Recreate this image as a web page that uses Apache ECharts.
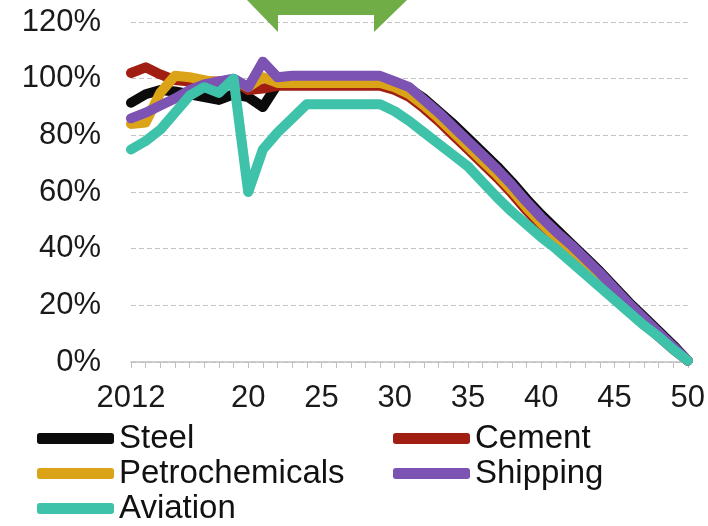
<!DOCTYPE html>
<html>
<head>
<meta charset="utf-8">
<script src="https://cdn.jsdelivr.net/npm/echarts@6/dist/echarts.min.js"></script>
<style>
html,body{margin:0;padding:0;background:#fff;}
#c{width:708px;height:526px;}
</style>
</head>
<body>
<div id="c"></div>
<script>
// ---- data ----
var years = [2012,2013,2014,2015,2016,2017,2018,2019,2020,2021,2022,2023,2024,2025,2026,2027,2028,2029,2030,2031,2032,2033,2034,2035,2036,2037,2038,2039,2040,2041,2042,2043,2044,2045,2046,2047,2048,2049,2050];
var steel = [91.5,94.5,96,95.5,94.5,93.5,92.5,94.5,93.5,90,98,98,98,98,98,98,98,98,97.5,96.5,93,88.5,84,79,74,69,63.5,57.5,52,47,42,37,32,26.5,21,16,11,6,0.5];
var cement = [102,104,101.5,99.5,99,99,99,99.5,96,96.5,97.5,97.5,97.5,97.5,97.5,97.5,97.5,97.5,96,93.5,89.5,85,80,75,70,65,59.5,53.5,48,43,38.5,33.5,28.5,23.5,18.5,14,9,4.5,0.5];
var petro = [84,84.5,95,101,100.5,99.5,98.5,99.5,97,100.5,98.5,98.5,98.5,98.5,98.5,98.5,98.5,98.5,97,94.5,90.5,86,81,76,71,66,60.5,54.5,49,44,39.5,34.5,29.5,24.5,19,14.5,9.5,5,0.5];
var shipping = [86,88,90.5,93,96,98,99,100,97,106,100.5,101,101,101,101,101,101,101,99,97,92.5,88,83,78,73,68,62.5,56.5,51,46,41.5,36.5,31.5,26,20.5,15.5,10.5,5.5,0.5];
var aviation = [75,78,82,88,94,97,95,100,60,75,81,86,91,91,91,91,91,91,88.5,85,81,77,73,69,63.5,58,53,48.5,44,40,35.5,31,26.5,22,17.5,13,9,4.5,0.5];
var seriesNames = ['Steel','Cement','Petrochemicals','Shipping','Aviation'];
var seriesColors = ['#0b0b0b','#a11f12','#dba418','#7c52b2','#3ec2a9'];
var xTickLabels = {2012:'2012',2020:'20',2025:'25',2030:'30',2035:'35',2040:'40',2045:'45',2050:'50'};

function pairs(vals){ return years.map(function(y,i){ return [y, vals[i]]; }); }
var allVals = [steel, cement, petro, shipping, aviation];

var chart = echarts.init(document.getElementById('c'), null, {renderer:'canvas'});
var FONT = '"Liberation Sans", Arial, sans-serif';

function legendAt(names, left){
  return {data:names, orient:'vertical', left:left, top:421, padding:0,
    icon:'roundRect', itemWidth:77, itemHeight:11, itemGap:0,
    textStyle:{fontSize:33, lineHeight:35, color:'#111', fontFamily:FONT}};
}

var option = {
  animation:false,
  backgroundColor:'#fff',
  grid:{left:131, right:18, top:22, bottom:164, containLabel:false},
  xAxis:{
    type:'value', min:2012, max:2050, interval:1,
    axisLine:{show:true, lineStyle:{color:'#bfbfbf', width:1.5}},
    axisTick:{show:true, length:6, lineStyle:{color:'#bfbfbf', width:1}},
    splitLine:{show:false},
    axisLabel:{
      margin:21, fontSize:31, color:'#1a1a1a', fontFamily:FONT,
      formatter:function(v){ return xTickLabels[v] || ''; }
    }
  },
  yAxis:{
    type:'value', min:0, max:120, interval:20,
    axisLine:{show:false}, axisTick:{show:false},
    axisLabel:{margin:30, fontSize:31, color:'#1a1a1a', fontFamily:FONT, formatter:'{value}%'},
    splitLine:{show:true, lineStyle:{color:'#c4c4c4', width:1.2, type:[5,3]}}
  },
  legend:[
    legendAt(['Steel','Petrochemicals','Aviation'], 37),
    legendAt(['Cement','Shipping'], 393)
  ],
  graphic:[{
    type:'polygon', z:100,
    shape:{points:[[247,0],[407,0],[374,32],[374,15],[278,15],[278,32]]},
    style:{fill:'#70ad47'}
  }],
  series: seriesNames.map(function(n,i){
    return {
      name:n, type:'line', data:pairs(allVals[i]), showSymbol:false, symbol:'none',
      color:seriesColors[i], z:2+i,
      lineStyle:{width:10, color:seriesColors[i], cap:'round', join:'round'}
    };
  })
};
chart.setOption(option);
</script>
</body>
</html>
